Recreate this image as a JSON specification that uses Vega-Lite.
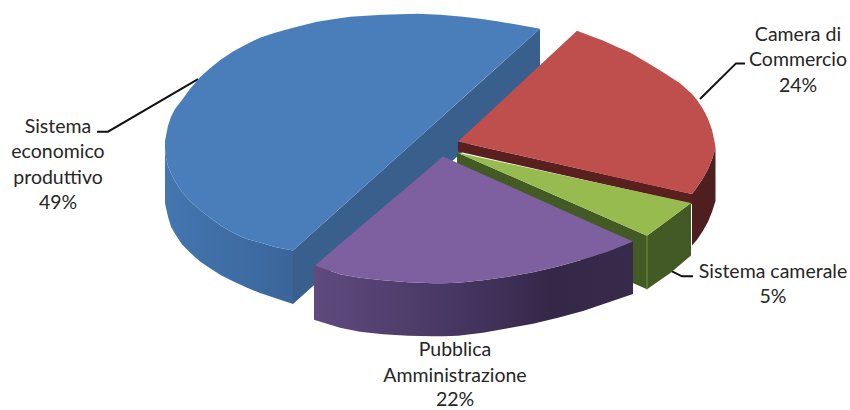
{
"$schema":"https://vega.github.io/schema/vega-lite/v6.json",
"width":850,"height":410,"padding":0,
"autosize":{"type":"fit","contains":"padding"},
"background":"white",
"view":{"stroke":null},
"encoding":{
 "x":{"field":"x","type":"quantitative","axis":null,"scale":{"domain":[0,850],"nice":false,"zero":false}},
 "y":{"field":"y","type":"quantitative","axis":null,"scale":{"domain":[410,0],"nice":false,"zero":false}}
},
"layer":[
{"mark":{"type":"line","color":"#111111","strokeWidth":2},"encoding":{"detail":{"field":"slice"},"order":{"field":"i"}},
 "data":{"values":[
 {"slice":"Sistema economico produttivo","i":1,"x":97,"y":133},{"slice":"Sistema economico produttivo","i":2,"x":108,"y":133},{"slice":"Sistema economico produttivo","i":3,"x":198,"y":80},
 {"slice":"Camera di Commercio","i":1,"x":745,"y":64},{"slice":"Camera di Commercio","i":2,"x":736,"y":64},{"slice":"Camera di Commercio","i":3,"x":700,"y":100},
 {"slice":"Sistema camerale","i":1,"x":693,"y":279},{"slice":"Sistema camerale","i":2,"x":682,"y":279},{"slice":"Sistema camerale","i":3,"x":670,"y":273}
 ]}},
{"mark":{"type":"area","color":{"gradient":"linear","x1":0,"x2":1,"y1":0,"y2":0,"stops":[{"offset":0,"color":"#4476b0"},{"offset":1,"color":"#3a659a"}]}},"encoding":{"y2":{"field":"y2"}},
 "data":{"values":[
 {"x":165,"y":150,"y2":205},{"x":166,"y":159,"y2":210},{"x":168,"y":168,"y2":219},{"x":171,"y":175,"y2":229},{"x":175,"y":183,"y2":236},{"x":182,"y":194,"y2":247},{"x":190,"y":203,"y2":255},{"x":200,"y":212,"y2":264},{"x":210,"y":220,"y2":271},{"x":221,"y":228,"y2":278},{"x":233,"y":235,"y2":284},{"x":246,"y":241,"y2":290},{"x":260,"y":245,"y2":296},{"x":275,"y":249.5,"y2":301},{"x":293,"y":253,"y2":307}
 ]}},
{"mark":{"type":"area","color":"#395f8c"},"encoding":{"y2":{"field":"y2"}},
 "data":{"values":[{"x":293,"y":253,"y2":307},{"x":540,"y":29,"y2":83}]}},
{"mark":{"type":"area","color":"#4a7ebb"},"encoding":{"y2":{"field":"y2"}},
 "data":{"values":[
 {"x":165,"y":143,"y2":150},{"x":166,"y":137,"y2":159},{"x":168,"y":127,"y2":168},{"x":171,"y":118,"y2":175},{"x":175,"y":110,"y2":183},{"x":182,"y":101,"y2":194},{"x":190,"y":90,"y2":203},{"x":200,"y":78,"y2":212},{"x":210,"y":69,"y2":220},{"x":221,"y":60,"y2":228},{"x":233,"y":52,"y2":235},{"x":246,"y":45,"y2":241},{"x":260,"y":38,"y2":245},{"x":275,"y":33,"y2":249.5},{"x":293,"y":28,"y2":253},{"x":305,"y":25,"y2":242.1},{"x":317,"y":22,"y2":231.2},{"x":333,"y":19.5,"y2":216.7},{"x":350,"y":17,"y2":201.3},{"x":366,"y":16,"y2":186.8},{"x":383,"y":15,"y2":171.4},{"x":400,"y":14.5,"y2":156},{"x":417,"y":14,"y2":140.5},{"x":440,"y":15,"y2":119.7},{"x":463,"y":17,"y2":98.8},{"x":480,"y":19,"y2":83.4},{"x":497,"y":21.5,"y2":68},{"x":518,"y":25,"y2":48.9},{"x":540,"y":29,"y2":29}
 ]}},
{"mark":{"type":"area","color":"#4f1f1f"},"encoding":{"y2":{"field":"y2"}},
 "data":{"values":[{"x":692,"y":196,"y2":248},{"x":697,"y":189,"y2":242},{"x":703,"y":180,"y2":233},{"x":708,"y":171,"y2":224},{"x":712,"y":161,"y2":214},{"x":714.5,"y":153,"y2":206},{"x":715.5,"y":149,"y2":203}]}},
{"mark":{"type":"area","color":"#5a1f1f"},"encoding":{"y2":{"field":"y2"}},
 "data":{"values":[{"x":458,"y":143,"y2":153},{"x":692,"y":196,"y2":206}]}},
{"mark":{"type":"area","color":"#be4f4c"},"encoding":{"y2":{"field":"y2"}},
 "data":{"values":[{"x":458,"y":143,"y2":143},{"x":577,"y":31,"y2":170},{"x":590,"y":36,"y2":173},{"x":603,"y":41,"y2":176},{"x":616,"y":47,"y2":179},{"x":630,"y":53,"y2":182},{"x":647,"y":63,"y2":186},{"x":663,"y":73,"y2":189.5},{"x":680,"y":84,"y2":193.3},{"x":692,"y":95,"y2":196},{"x":697,"y":101,"y2":189},{"x":703,"y":110,"y2":180},{"x":708,"y":120,"y2":171},{"x":712,"y":131,"y2":161},{"x":714.5,"y":143,"y2":153},{"x":715.5,"y":148,"y2":149}]}},
{"mark":{"type":"area","color":"#445a25"},"encoding":{"y2":{"field":"y2"}},
 "data":{"values":[{"x":457,"y":154,"y2":208},{"x":647,"y":238,"y2":292},{"x":670,"y":221,"y2":276},{"x":691,"y":205,"y2":258}]}},
{"mark":{"type":"area","color":"#98bb4f"},"encoding":{"y2":{"field":"y2"}},
 "data":{"values":[{"x":457,"y":154,"y2":154},{"x":647,"y":195.4,"y2":238},{"x":670,"y":200.4,"y2":221},{"x":691,"y":205,"y2":205}]}},
{"mark":{"type":"line","color":"#62803a","strokeWidth":1.5},
 "data":{"values":[{"x":647,"y":238},{"x":647,"y":292}]}},
{"mark":{"type":"area","color":{"gradient":"linear","x1":0,"x2":1,"y1":0,"y2":0,"stops":[{"offset":0,"color":"#604a7e"},{"offset":0.5,"color":"#43345f"},{"offset":0.75,"color":"#352747"},{"offset":1,"color":"#382a4b"}]}},"encoding":{"y2":{"field":"y2"}},
 "data":{"values":[{"x":314,"y":268,"y2":323},{"x":327,"y":272.5,"y2":327},{"x":340,"y":277,"y2":331},{"x":360,"y":280.5,"y2":335},{"x":383,"y":283,"y2":337.5},{"x":408,"y":285,"y2":339},{"x":433,"y":286,"y2":339.5},{"x":443,"y":286,"y2":339.5},{"x":458,"y":285.5,"y2":339},{"x":483,"y":283,"y2":336},{"x":508,"y":279.5,"y2":331.5},{"x":533,"y":275,"y2":327},{"x":558,"y":269,"y2":321},{"x":583,"y":262,"y2":314},{"x":608,"y":254,"y2":305.5},{"x":633,"y":244,"y2":297}]}},
{"mark":{"type":"area","color":"#7e60a1"},"encoding":{"y2":{"field":"y2"}},
 "data":{"values":[{"x":315,"y":268,"y2":268},{"x":327,"y":257.7,"y2":272.5},{"x":340,"y":246.5,"y2":277},{"x":360,"y":229.3,"y2":280.5},{"x":383,"y":209.6,"y2":283},{"x":408,"y":188.1,"y2":285},{"x":433,"y":166.6,"y2":286},{"x":443,"y":158,"y2":286},{"x":458,"y":164.8,"y2":285.5},{"x":483,"y":176.1,"y2":283},{"x":508,"y":187.4,"y2":279.5},{"x":533,"y":198.7,"y2":275},{"x":558,"y":210,"y2":269},{"x":583,"y":221.4,"y2":262},{"x":608,"y":232.7,"y2":254},{"x":633,"y":244,"y2":244}]}},
{"mark":{"type":"text","font":"Lato","fontSize":19.5,"color":"#262626","align":"center","baseline":"middle"},"encoding":{"text":{"field":"t"}},
 "data":{"values":[
 {"t":"Sistema","x":58,"y":128.5},{"t":"economico","x":58,"y":153.5},{"t":"produttivo","x":58,"y":179.5},{"t":"49%","x":58,"y":204.5},
 {"t":"Camera di","x":798,"y":35.5},{"t":"Commercio","x":798,"y":60.5},{"t":"24%","x":798,"y":86.5},
 {"t":"Sistema camerale","x":773,"y":274.5},{"t":"5%","x":773,"y":299.5},
 {"t":"Pubblica","x":455,"y":353.5},{"t":"Amministrazione","x":455,"y":379.5},{"t":"22%","x":455,"y":404}
 ]}}
]
}
